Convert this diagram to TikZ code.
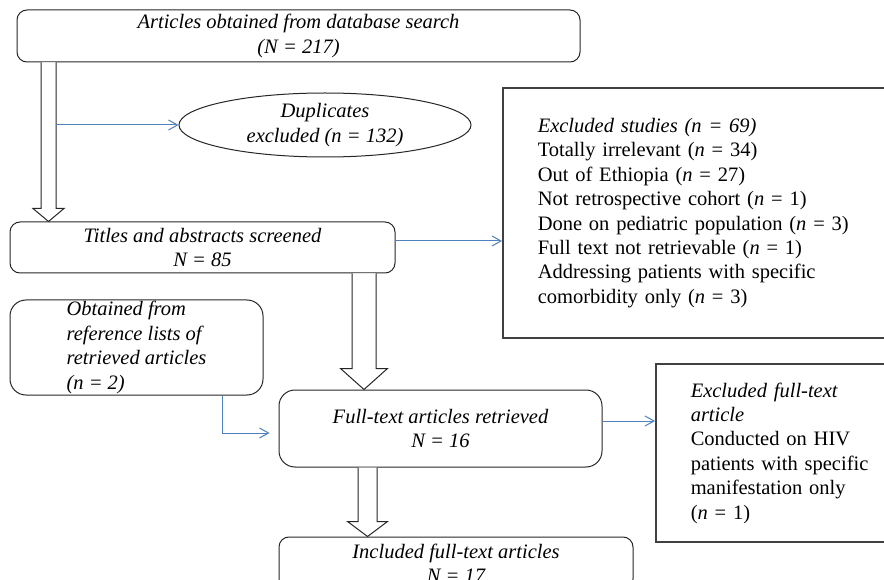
\documentclass[tikz,border=0pt]{standalone}
\usepackage{fontspec}
\setmainfont{Liberation Serif}
\usetikzlibrary{arrows.meta,shapes.geometric,calc}
\definecolor{lnblue}{RGB}{79,129,189}
\definecolor{bxgray}{RGB}{64,64,64}
\newcommand\hollowarr[6]{%
 \draw[hollow] let \p1=(#2), \p2=(#3) in
  ({#1pt-#4pt},\y1) -- ({#1pt-#4pt},{\y2+#6pt}) -- ({#1pt-#5pt},{\y2+#6pt}) -- ({#1pt},\y2)
  -- ({#1pt+#5pt},{\y2+#6pt}) -- ({#1pt+#4pt},{\y2+#6pt}) -- ({#1pt+#4pt},\y1);}
\begin{document}
\begin{tikzpicture}[x=1pt,y=-1pt,
  txt/.style={font=\fontsize{20.5}{24.4}\selectfont},
  ittxt/.style={font=\fontsize{20.5}{24.4}\selectfont\itshape},
  rbox/.style={draw=black!85, line width=1pt, rounded corners=10pt, inner sep=0pt, align=center, ittxt},
  sbox/.style={draw=bxgray, line width=1.5pt, inner ysep=0pt, inner xsep=35pt, align=left, anchor=west, txt},
  flow/.style={draw=lnblue, line width=1pt, -{Straight Barb[length=9pt,width=10pt]}},
  hollow/.style={draw=black!85, line width=1pt, fill=white, line join=miter}
]
\useasboundingbox (0,0) rectangle (884,580);
\clip (0,0) rectangle (884,580);

% boxes
\node[rbox, minimum width=563pt, minimum height=52pt] (top) at (298.5,36)
  {Articles obtained from database search\\(N = 217)};
\node[draw=black!85, line width=1pt, ellipse, inner sep=0pt, minimum width=292pt, minimum height=64pt, align=center, ittxt] (dup) at (325,125)
  {Duplicates\\excluded (n = 132)};
\node[rbox, minimum width=385pt, minimum height=51pt] (box2) at (202.5,247.5)
  {Titles and abstracts screened\\N = 85};
\node[sbox, text width=330pt, minimum height=250pt] (excl) at (502,213)
  {\textit{Excluded studies (n = 69)}\\
   Totally irrelevant (\textit{n} = 34)\\
   Out of Ethiopia (\textit{n} = 27)\\
   Not retrospective cohort (\textit{n} = 1)\\
   Done on pediatric population (\textit{n} = 3)\\
   Full text not retrievable (\textit{n} = 1)\\
   Addressing patients with specific\\
   comorbidity only (\textit{n} = 3)};
\node[rbox, rounded corners=16pt, align=left, minimum width=253pt, minimum height=95pt] (obt) at (136.5,347.5)
  {Obtained from\\reference lists of\\retrieved articles\\(n = 2)};
\node[rbox, rounded corners=16pt, minimum width=323pt, minimum height=77pt] (ft) at (440.5,428.5)
  {Full-text articles retrieved\\N = 16};
\node[sbox, text width=200pt, minimum height=178pt] (excl2) at (655,453)
  {\textit{Excluded full-text}\\
   \textit{article}\\
   Conducted on HIV\\
   patients with specific\\
   manifestation only\\
   (\textit{n} = 1)};
\node[rbox, minimum width=354pt, minimum height=52pt] (inc) at (456,563)
  {Included full-text articles\\N = 17};

% hollow arrows
\hollowarr{48.5}{top.south}{box2.north}{7.5}{15.5}{13}
\hollowarr{364}{box2.south}{ft.north}{12}{23.5}{21}
\hollowarr{367.5}{ft.south}{inc.north}{9.5}{20}{15}

% blue connectors
\coordinate (s1) at (56,125);
\draw[flow] (s1) -- (dup);
\draw[flow] ([yshift=6.5pt]box2.east) -- ([yshift=6.5pt]box2.east -| excl.west);
\draw[flow, shorten >=9pt] ([xshift=85.5pt]obt.south) |- ([yshift=-4.5pt]ft.west);
\draw[flow] ([yshift=7.5pt]ft.east) -- ([yshift=7.5pt]ft.east -| excl2.west);
\end{tikzpicture}
\end{document}
